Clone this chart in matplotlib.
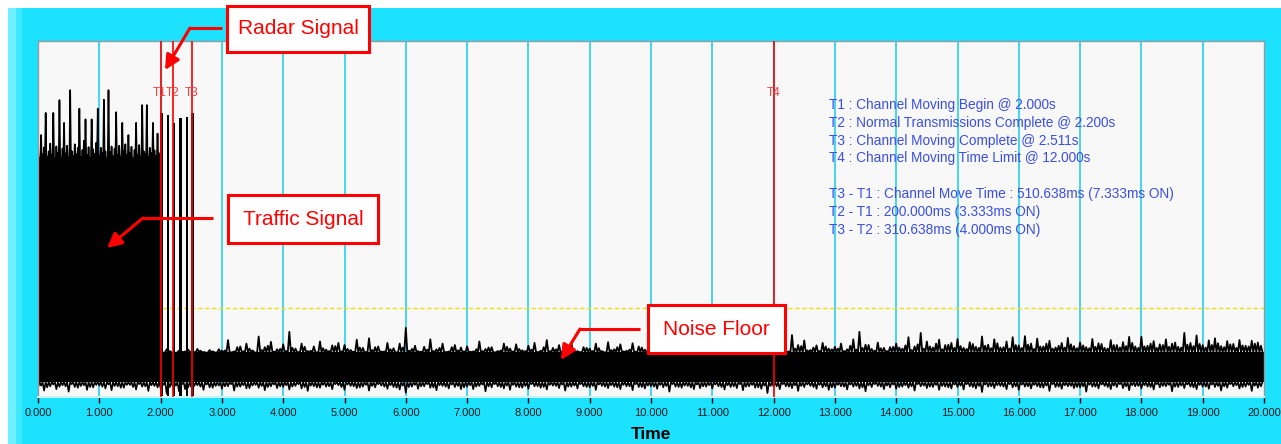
import numpy as np
import matplotlib
matplotlib.use("Agg")
import matplotlib.pyplot as plt
from matplotlib.patches import Rectangle

plt.rcParams['font.family'] = ['Liberation Sans', 'DejaVu Sans']

# ---- data (y in arbitrary 0..100 units) ----
x_ticks = [0, 1, 2, 3, 4, 5, 6, 7, 8, 9, 10, 11, 12, 13, 14, 15, 16, 17, 18, 19, 20]
tick_labels = ['%.3f' % v for v in x_ticks]

markers = ['T1', 'T2', 'T3', 'T4']
marker_times = [2.000, 2.200, 2.511, 12.000]

threshold_level = 25.0
core_low = 4.2
noise_core_high = 12.6
traffic_core_high = 66.0

# traffic burst (0 - 2 s), one peak every 25 ms
traffic_peak = [69.5, 67.0, 73.6, 68.2, 70.1, 79.8, 67.4, 69.0, 71.2, 68.0,
                79.8, 66.8, 70.4, 68.6, 83.4, 67.2, 69.8, 77.0, 68.4, 70.6,
                67.0, 86.2, 69.1, 67.6, 71.0, 68.2, 70.0, 81.0, 67.4, 69.4,
                72.0, 78.0, 68.0, 70.2, 67.1, 78.0, 69.6, 68.3, 71.4, 81.0,
                67.8, 70.0, 68.6, 83.5, 69.0, 67.2, 86.2, 68.8, 70.4, 67.6,
                69.8, 80.0, 68.1, 70.6, 67.3, 77.0, 69.2, 71.0, 67.9, 73.6,
                68.5, 70.3, 67.0, 69.4, 77.0, 68.0, 70.8, 67.5, 82.0, 69.0,
                68.2, 82.0, 67.4, 70.0, 68.6, 77.0, 69.3, 67.8, 74.0, 68.5]

# radar channel-move bursts between T1 and T3
burst_times = [2.02, 2.12, 2.22, 2.32, 2.43, 2.52]
burst_top = [79.8, 79.2, 77.0, 78.4, 78.7, 79.8]

# noise floor upper envelope from 2.05 s: big peaks every 100 ms, small ones in between
noise_peak = [12.6, 13.4, 12.2, 13.0, 12.8, 12.8, 13.5, 12.6, 13.2, 12.4,
              13.0, 16.0, 12.8, 14.2, 15.0, 13.1, 17.0, 14.0, 15.5, 13.4,
              14.8, 18.3, 13.6, 15.0, 12.9, 14.2, 15.6, 13.3, 14.5, 15.2,
              14.6, 13.2, 16.1, 13.8, 16.5, 14.0, 12.8, 15.2, 13.7, 15.0,
              19.4, 13.5, 12.9, 14.1, 16.2, 13.4, 15.0, 12.8, 14.6, 13.9,
              14.2, 12.8, 15.6, 13.5, 14.0, 12.9, 15.0, 13.6, 14.8, 13.1,
              14.4, 15.2, 13.0, 16.0, 13.8, 14.6, 13.2, 15.4, 12.9, 14.0,
              13.6, 15.0, 12.9, 15.4, 13.4, 14.8, 13.0, 15.1, 14.2, 13.3,
              14.7, 13.1, 15.5, 13.8, 14.2, 12.9, 15.0, 13.6, 14.4, 13.0,
              13.4, 14.6, 12.9, 14.0, 13.2, 14.8, 12.8, 13.9, 13.5, 12.9,
              13.8, 15.4, 13.0, 17.4, 14.6, 15.9, 13.2, 14.5, 15.2, 13.6,
              14.1, 15.0, 13.4, 16.2, 18.3, 14.7, 13.5, 15.3, 13.8, 14.0,
              15.0, 13.6, 16.8, 14.2, 18.0, 15.6, 13.9, 16.1, 14.6, 15.2,
              16.3, 13.8, 15.4, 14.1, 17.0, 14.7, 16.2, 13.9, 15.6, 16.8,
              14.5, 17.1, 15.0, 16.4, 14.2, 15.8, 13.9, 15.2, 16.6, 14.3,
              15.3, 14.0, 16.3, 15.1, 13.8, 16.0, 14.6, 15.4, 16.9, 14.2,
              16.9, 14.4, 15.7, 14.8, 16.2, 15.0, 14.1, 18.0, 15.2, 17.3,
              14.6, 15.9, 16.5, 14.3, 15.7, 14.9, 16.0, 14.4, 15.8, 15.3]

noise_mid = [12.4, 12.9, 12.2, 12.7, 13.3, 12.6, 13.0, 12.3, 12.8, 13.4,
             13.1, 12.5, 14.0, 12.8, 13.6, 12.4, 13.2, 14.4, 12.7, 13.5,
             12.9, 13.8, 12.6, 14.1, 13.0, 12.5, 13.7, 12.9, 14.3, 12.8,
             13.5, 12.7, 13.9, 12.6, 13.2, 14.2, 12.8, 13.4, 12.5, 13.9,
             13.0, 14.4, 12.7, 13.3, 12.9, 13.8, 12.6, 14.0, 13.1, 12.8,
             12.7, 13.4, 12.9, 13.9, 12.5, 13.1, 14.1, 12.8, 13.5, 12.9,
             13.3, 12.6, 14.0, 12.9, 13.4, 12.7, 13.6, 13.0, 12.6, 13.8,
             12.9, 13.7, 12.5, 13.2, 14.0, 12.8, 13.3, 12.7, 13.9, 13.1,
             13.4, 12.8, 13.1, 12.6, 13.8, 13.0, 12.7, 14.1, 12.9, 13.3,
             12.6, 13.2, 12.8, 13.5, 12.5, 13.0, 12.9, 13.4, 12.7, 13.1,
             13.2, 14.0, 12.8, 13.6, 14.3, 13.1, 13.9, 12.9, 14.2, 13.4,
             13.6, 12.9, 14.4, 13.3, 13.8, 14.6, 13.0, 13.7, 12.9, 14.1,
             13.9, 14.5, 13.2, 14.8, 13.6, 14.2, 15.0, 13.4, 14.7, 13.8,
             14.3, 13.5, 14.9, 13.8, 14.4, 13.7, 15.1, 14.0, 13.6, 14.6,
             13.8, 14.7, 13.5, 14.2, 15.0, 13.6, 14.4, 13.9, 14.8, 13.7,
             14.5, 13.7, 14.1, 14.9, 13.6, 14.6, 13.9, 14.3, 15.2, 13.8,
             14.2, 15.0, 13.8, 14.6, 14.1, 15.3, 13.9, 14.7, 14.3, 14.9,
             13.9, 14.6, 15.1, 14.0, 14.8, 13.8, 14.5, 14.2, 15.0, 14.4]

# lower envelope of the whole trace from 0.05 s: deep dips every 100 ms, shallow ones between
trough = [2.6, 1.8, 3.0, 2.2, 3.3, 1.5, 2.8, 3.1, 2.0, 2.7,
          3.2, 2.4, 1.9, 3.0, 2.6, 3.4, 2.1, 2.9, 1.7, 3.1,
          2.5, 0.9, 3.0, 1.6, 2.2, 2.8, 3.3, 2.0, 2.7, 3.1,
          2.3, 3.0, 1.8, 2.9, 2.4, 3.2, 2.6, 1.9, 3.0, 2.5,
          2.8, 2.1, 3.1, 2.4, 1.7, 3.0, 2.6, 2.9, 2.2, 3.3,
          2.0, 3.1, 2.5, 2.9, 1.8, 2.7, 3.2, 2.3, 2.8, 2.1,
          1.2, 2.9, 2.3, 3.0, 2.6, 1.9, 3.1, 2.4, 2.8, 2.2,
          2.9, 2.2, 3.1, 1.6, 2.7, 3.0, 2.4, 2.0, 2.9, 2.6,
          2.3, 3.0, 2.6, 2.1, 3.2, 2.5, 1.8, 2.9, 2.4, 3.0,
          2.7, 2.0, 3.1, 2.5, 2.9, 2.2, 3.0, 1.9, 2.8, 2.4,
          3.0, 2.3, 2.7, 1.5, 2.9, 2.6, 3.1, 2.2, 2.5, 2.9,
          2.4, 3.0, 2.1, 2.8, 2.5, 1.9, 3.0, 2.6, 2.3, 1.1,
          2.9, 2.2, 3.0, 2.5, 1.7, 2.8, 3.1, 2.3, 2.7, 2.0,
          2.6, 3.0, 2.1, 2.9, 2.4, 1.6, 2.8, 3.1, 2.2, 2.7,
          2.3, 2.9, 2.6, 1.8, 3.0, 2.5, 2.8, 2.0, 2.9, 2.4,
          2.8, 2.1, 3.0, 2.4, 1.4, 2.9, 2.5, 3.1, 2.2, 2.7,
          2.0, 2.9, 2.4, 3.0, 2.6, 1.7, 2.8, 2.3, 3.0, 2.5,
          2.7, 1.5, 2.9, 2.4, 3.1, 2.2, 2.8, 2.5, 1.9, 3.0,
          2.4, 2.9, 2.1, 2.7, 3.0, 1.6, 2.8, 2.5, 2.9, 2.2,
          2.9, 2.3, 2.8, 1.8, 2.6, 3.0, 2.4, 2.9, 1.7, 2.6]

trough_mid = [3.2, 2.7, 3.5, 2.9, 3.0, 3.6, 2.6, 3.3, 2.8, 3.4,
              2.9, 3.5, 3.1, 2.6, 3.4, 2.8, 3.6, 3.0, 3.3, 2.7,
              3.4, 2.8, 3.2, 3.6, 2.7, 3.1, 2.9, 3.5, 2.6, 3.2,
              3.0, 3.6, 2.9, 3.3, 2.5, 3.4, 3.1, 2.8, 3.5, 3.0,
              3.3, 2.9, 3.6, 2.8, 3.2, 2.7, 3.4, 3.0, 3.6, 2.8,
              3.5, 3.0, 2.7, 3.4, 3.1, 3.6, 2.9, 3.3, 2.6, 3.2,
              2.8, 3.4, 3.0, 3.6, 2.7, 3.3, 2.9, 3.5, 3.1, 2.7,
              3.3, 2.9, 3.5, 3.0, 3.6, 2.8, 3.2, 3.4, 2.7, 3.1,
              3.6, 3.0, 2.8, 3.4, 3.1, 3.5, 2.9, 3.2, 3.6, 2.8,
              3.1, 3.5, 2.9, 3.3, 2.7, 3.4, 3.0, 3.6, 2.8, 3.2,
              2.9, 3.4, 3.1, 3.6, 2.8, 3.2, 2.7, 3.5, 3.0, 3.3,
              3.5, 2.8, 3.3, 3.0, 3.6, 2.9, 3.4, 2.7, 3.2, 3.1,
              3.0, 3.6, 2.9, 3.3, 3.1, 3.5, 2.8, 3.4, 3.0, 2.7,
              3.4, 2.9, 3.5, 3.1, 2.7, 3.3, 3.6, 2.9, 3.2, 3.5,
              2.8, 3.3, 3.0, 3.6, 3.2, 2.9, 3.4, 3.1, 2.7, 3.5,
              3.2, 3.6, 2.8, 3.1, 3.5, 3.0, 3.3, 2.9, 3.6, 3.0,
              3.5, 3.0, 3.4, 2.7, 3.2, 3.6, 2.9, 3.3, 3.1, 2.8,
              3.0, 3.4, 2.9, 3.5, 2.8, 3.2, 3.6, 3.0, 3.3, 3.1,
              3.3, 2.8, 3.6, 3.1, 3.4, 2.9, 3.2, 3.5, 2.7, 3.4,
              2.9, 3.5, 3.1, 3.0, 3.6, 3.3, 2.8, 3.4, 3.2, 3.0]

info_lines = ['T1 : Channel Moving Begin @ 2.000s',
              'T2 : Normal Transmissions Complete @ 2.200s',
              'T3 : Channel Moving Complete @ 2.511s',
              'T4 : Channel Moving Time Limit @ 12.000s',
              '',
              'T3 - T1 : Channel Move Time : 510.638ms (7.333ms ON)',
              'T2 - T1 : 200.000ms (3.333ms ON)',
              'T3 - T2 : 310.638ms (4.000ms ON)']

CYAN = '#1ce1ff'
GRID = '#35d4f2'
BLUE = '#3b4fe2'


def zigzag(t, envelopes, base, step):
    # min/max style trace: every sample jumps out to an envelope value and back to the core level
    t = np.asarray(t, dtype=float)
    n = 2 * len(envelopes)
    q = step / n
    xs = np.empty(n * len(t))
    ys = np.empty(n * len(t))
    for k, env in enumerate(envelopes):
        xs[2 * k::n] = t + 2 * k * q
        ys[2 * k::n] = env
        xs[2 * k + 1::n] = t + (2 * k + 1) * q
        ys[2 * k + 1::n] = base
    return xs, ys


fig = plt.figure(figsize=(12.81, 4.44), dpi=100, facecolor=CYAN)
W, H = 1281, 444
ax = fig.add_axes([38 / W, 47 / H, (1264 - 38) / W, (397 - 41) / H])
ax.set_facecolor('#f8f8f8')
ax.set_xlim(0, 20)
ax.set_ylim(0, 100)

for s in range(1, 20):
    ax.axvline(s, color=GRID, lw=1.3, zorder=1)
ax.axhline(threshold_level, color='#ece000', lw=1, ls=(0, (3, 2)), zorder=1)

# traffic block
t_traffic = 0.0125 + 0.025 * np.arange(len(traffic_peak))
ax.fill_between([0, 2.0], core_low, traffic_core_high, color='black', lw=0, zorder=2)
xs, ys = zigzag(t_traffic - 0.0125, [traffic_peak], traffic_core_high, 0.025)
ax.plot(xs, ys, color='black', lw=1.2, zorder=2)

# radar bursts
ax.bar(burst_times, burst_top, width=0.045, bottom=0, color='black', zorder=2)

# noise floor
t_noise = 2.05 + 0.1 * np.arange(len(noise_peak))
ax.fill_between([2.0, 20.0], core_low, noise_core_high, color='black', lw=0, zorder=2)
xs, ys = zigzag(t_noise - 0.05, [noise_peak, noise_mid], noise_core_high, 0.1)
ax.plot(xs, ys, color='black', lw=1.3, zorder=2)

t_low = 0.05 + 0.1 * np.arange(len(trough))
xs, ys = zigzag(t_low - 0.05, [trough, trough_mid], core_low, 0.1)
ax.plot(xs, ys, color='black', lw=1.2, zorder=2)

# markers (T1 label sits just left of T2 so they read "T1T2" without overlapping)
for name, t in zip(markers, marker_times):
    ax.axvline(t, color='red', lw=1.2, zorder=3)
    if name == 'T1':
        ax.text(t + 0.09, 85.4, name, color='#ff3a3a', fontsize=8.5, ha='right', va='center', zorder=4)
    else:
        ax.text(t, 85.4, name, color='#ff3a3a', fontsize=8.5, ha='center', va='center', zorder=4)

ax.set_xticks(x_ticks)
ax.set_xticklabels(tick_labels, fontsize=8, color='#1a1a1a')
ax.set_yticks([])
ax.tick_params(axis='x', direction='out', length=4, width=1, color='black', pad=4)
for side in ['left', 'top', 'right']:
    ax.spines[side].set_color('#9a9a9a')
    ax.spines[side].set_linewidth(1)
ax.spines['bottom'].set_color('#c8f6ff')
ax.spines['bottom'].set_linewidth(1.5)

# overlay in pixel coordinates for frame bits and callouts
ov = fig.add_axes([0, 0, 1, 1], zorder=5)
ov.set_xlim(0, W)
ov.set_ylim(H, 0)
ov.axis('off')
ov.patch.set_alpha(0)

ov.add_patch(Rectangle((0, 0), W, 8, color='white', lw=0))
ov.add_patch(Rectangle((0, 0), 8, H, color='white', lw=0))
ov.add_patch(Rectangle((8, 8), 8, H, color='#6ff0ff', lw=0))
ov.add_patch(Rectangle((16, 8), 6, H, color='#40e8ff', lw=0))

ov.text(651, 434, 'Time', fontsize=12.5, fontweight='bold', ha='center', va='center')

for i, line in enumerate(info_lines):
    ov.text(829, 105 + 17.8 * i, line, color=BLUE, fontsize=9.8, ha='left', va='center')

callouts = [
    ('Radar Signal', (227, 6, 142, 46), [(222, 28), (190, 28)], (165, 70)),
    ('Traffic Signal', (228, 195, 150, 48), [(213, 218), (143, 218)], (107, 248)),
    ('Noise Floor', (648, 305, 137, 48), [(640, 329), (580, 329)], (561, 360)),
]
for label, (bx, by, bw, bh), seg, head in callouts:
    ov.add_patch(Rectangle((bx, by), bw, bh, facecolor='white', edgecolor='red', lw=2.2))
    ov.text(bx + bw / 2, by + bh / 2, label, color='red', fontsize=15, ha='center', va='center')
    ov.plot([seg[0][0], seg[1][0]], [seg[0][1], seg[1][1]], color='red', lw=2.2, solid_capstyle='butt')
    ov.annotate('', xy=head, xytext=seg[1],
                arrowprops=dict(arrowstyle='-|>', color='red', lw=2.2, mutation_scale=22,
                                shrinkA=0, shrinkB=0))

fig.savefig('out.png', dpi=100, facecolor=CYAN)
